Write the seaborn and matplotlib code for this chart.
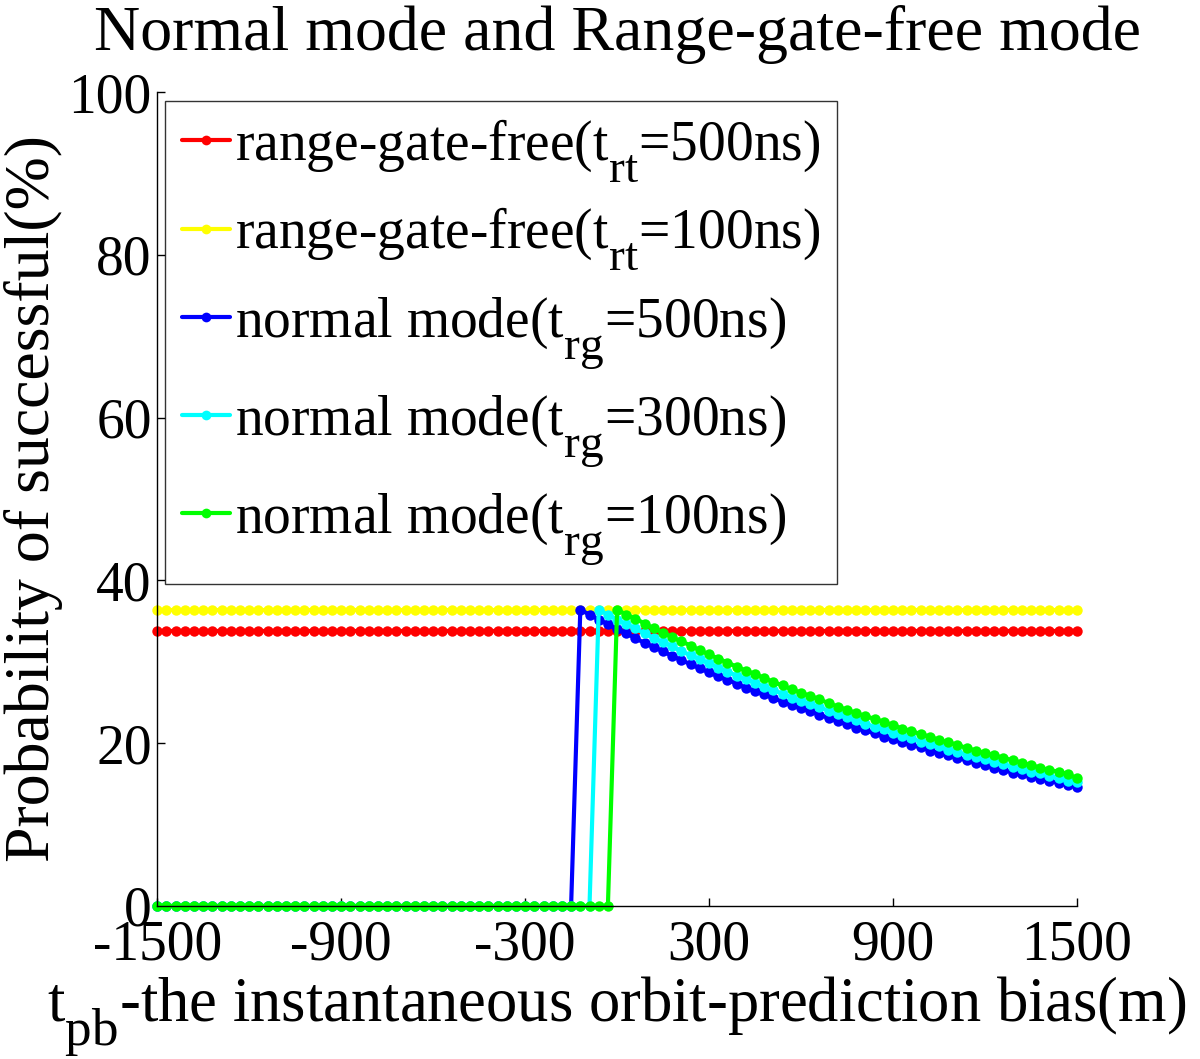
import numpy as np
import pandas as pd
import matplotlib
matplotlib.use("Agg")
import matplotlib.pyplot as plt
import matplotlib._mathtext as mathtext_mod
import seaborn as sns

# x grid: orbit-prediction bias (m), step 30 m
x_bias = np.arange(-1500, 1501, 30)

# range-gate-free curves are flat
rgf_500 = [33.8] * len(x_bias)
rgf_100 = [36.4] * len(x_bias)

# normal mode curves: zero before the gate opens, then decaying tail
blue_tail = [36.4, 35.8, 35.2, 34.6, 34.0, 33.5, 32.9, 32.3, 31.8, 31.3,
             30.7, 30.2, 29.7, 29.2, 28.7, 28.2, 27.8, 27.3, 26.8, 26.4,
             26.0, 25.5, 25.1, 24.7, 24.3, 23.9, 23.5, 23.1, 22.7, 22.3,
             21.9, 21.6, 21.2, 20.8, 20.5, 20.1, 19.8, 19.5, 19.1, 18.8,
             18.5, 18.2, 17.9, 17.6, 17.3, 17.0, 16.7, 16.4, 16.2, 15.9,
             15.6, 15.4, 15.1, 14.9, 14.6]
cyan_tail = [36.4, 35.8, 35.2, 34.6, 34.1, 33.5, 32.9, 32.4, 31.9, 31.3,
             30.8, 30.3, 29.8, 29.3, 28.8, 28.3, 27.9, 27.4, 26.9, 26.5,
             26.1, 25.6, 25.2, 24.8, 24.4, 24.0, 23.6, 23.2, 22.8, 22.4,
             22.0, 21.7, 21.3, 20.9, 20.6, 20.2, 19.9, 19.6, 19.2, 18.9,
             18.6, 18.3, 18.0, 17.7, 17.4, 17.1, 16.8, 16.5, 16.3, 16.0,
             15.7, 15.4, 15.2]
green_tail = [36.4, 35.8, 35.3, 34.7, 34.1, 33.6, 33.0, 32.5, 32.0, 31.4,
              30.9, 30.4, 29.9, 29.4, 28.9, 28.5, 28.0, 27.5, 27.1, 26.6,
              26.2, 25.8, 25.4, 24.9, 24.5, 24.1, 23.7, 23.3, 23.0, 22.6,
              22.2, 21.8, 21.5, 21.1, 20.8, 20.4, 20.1, 19.8, 19.4, 19.1,
              18.8, 18.5, 18.2, 17.9, 17.6, 17.3, 17.0, 16.7, 16.5, 16.2,
              15.7]
nm_500 = [0.0] * (len(x_bias) - len(blue_tail)) + blue_tail
nm_300 = [0.0] * (len(x_bias) - len(cyan_tail)) + cyan_tail
nm_100 = [0.0] * (len(x_bias) - len(green_tail)) + green_tail

labels = [r"range-gate-free($\mathrm{t_{rt}}$=500ns)",
          r"range-gate-free($\mathrm{t_{rt}}$=100ns)",
          r"normal mode($\mathrm{t_{rg}}$=500ns)",
          r"normal mode($\mathrm{t_{rg}}$=300ns)",
          r"normal mode($\mathrm{t_{rg}}$=100ns)"]
colors = ["#ff0000", "#ffff00", "#0000ff", "#00ffff", "#00ff00"]
series = [rgf_500, rgf_100, nm_500, nm_300, nm_100]

sns.set_style("ticks")
plt.rcParams["font.family"] = ["Liberation Serif", "DejaVu Serif"]
plt.rcParams["mathtext.fontset"] = "custom"
plt.rcParams["mathtext.rm"] = "Liberation Serif"
plt.rcParams["mathtext.it"] = "Liberation Serif"
plt.rcParams["axes.unicode_minus"] = False
plt.rcParams["text.color"] = "black"
plt.rcParams["axes.labelcolor"] = "black"
plt.rcParams["xtick.color"] = "black"
plt.rcParams["ytick.color"] = "black"

# MATLAB-like subscripts: bigger and dropped lower
mathtext_mod.SHRINK_FACTOR = 0.85
mathtext_mod.FontConstantsBase.sub1 = 0.85
mathtext_mod.FontConstantsBase.sub2 = 1.0

fig = plt.figure(figsize=(12, 10.59), dpi=100)
ax = fig.add_axes([0.131, 0.1445, 0.7665, 0.7685])

for lab, col, vals in zip(labels, colors, series):
    df = pd.DataFrame({"x": x_bias, "y": vals})
    sns.lineplot(data=df, x="x", y="y", ax=ax, color=col, label=lab,
                 marker="o", markersize=7.5, markeredgewidth=0, linewidth=3,
                 clip_on=False)

ax.set_xlim(-1500, 1500)
ax.set_ylim(0, 100)
ax.set_xticks([-1500, -900, -300, 300, 900, 1500])
ax.set_yticks([0, 20, 40, 60, 80, 100])
ax.tick_params(direction="in", length=6, width=1, labelsize=40, pad=4)
ax.tick_params(axis="x", pad=10)
sns.despine(ax=ax)
for s in ["left", "bottom"]:
    ax.spines[s].set_linewidth(1)
    ax.spines[s].set_color("black")

ax.set_title("Normal mode and Range-gate-free mode", fontsize=46, pad=30)
ax.set_ylabel("Probability of successful(%)", fontsize=46, labelpad=4)
ax.set_xlabel(r"$\mathrm{t_{pb}}$-the instantaneous orbit-prediction bias(m)",
              fontsize=45, labelpad=2)

leg = ax.legend(loc="upper left", bbox_to_anchor=(0.009, 0.989), fontsize=40,
                frameon=True, fancybox=False, handlelength=0.86,
                handletextpad=0.09, labelspacing=0.4, borderaxespad=0,
                borderpad=0.3)
leg.get_frame().set_edgecolor("black")
leg.get_frame().set_linewidth(1)
for h in leg.legend_handles:
    h.set_markersize(7)

fig.savefig("out.png", dpi=100)
